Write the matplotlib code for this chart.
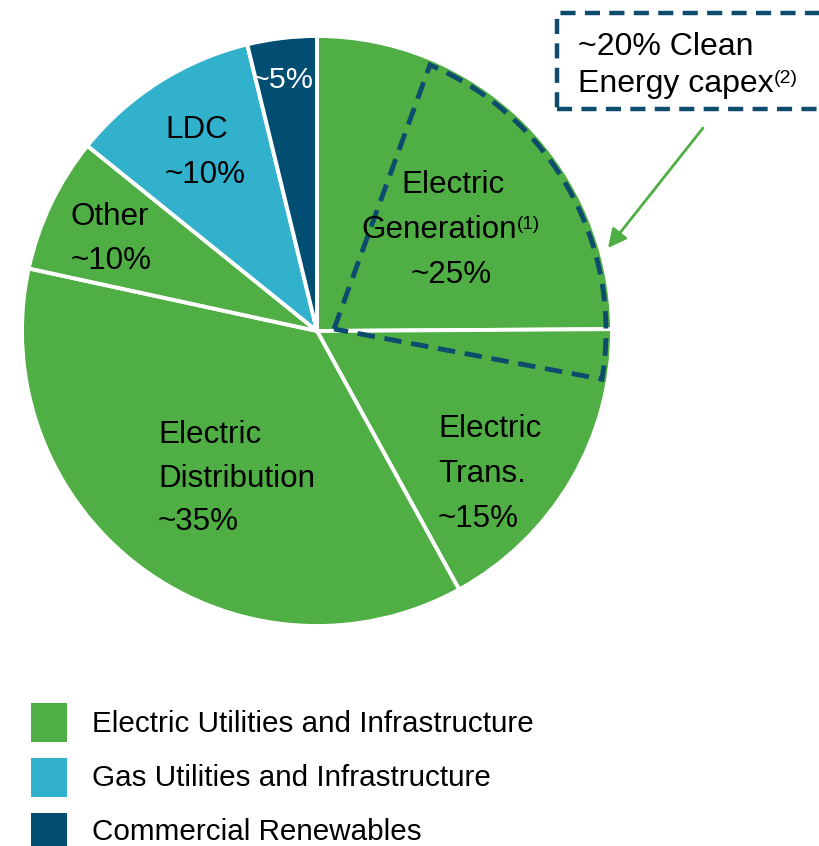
import matplotlib
matplotlib.use("Agg")
import matplotlib.pyplot as plt
import matplotlib.font_manager as font_manager
import numpy as np
from matplotlib.patches import Rectangle, Polygon

# capex split (clockwise from 12 o'clock)
segments = ["Electric Generation", "Electric Trans.", "Electric Distribution",
            "Other", "LDC", "Commercial Renewables"]
shares = [24.9, 17.1, 36.4, 7.4, 10.4, 3.8]
segment_group = [0, 0, 0, 0, 1, 2]

groups = ["Electric Utilities and Infrastructure",
          "Gas Utilities and Infrastructure",
          "Commercial Renewables"]
group_colors = ["#4FAF44", "#32B1CC", "#024D72"]
dash_color = "#0D4C6D"

W, H = 820, 846

installed = {f.name for f in font_manager.fontManager.ttflist}
narrow = "Liberation Sans Narrow" if "Liberation Sans Narrow" in installed else None
plt.rcParams["font.family"] = ["Liberation Sans", "DejaVu Sans"]
label_font = [narrow, "Liberation Sans"] if narrow else ["Liberation Sans"]
label_size = 26 if narrow else 22.6


def Y(y):
    return H - y


fig = plt.figure(figsize=(W / 100, H / 100), dpi=100)
ax = fig.add_axes([0, 0, 1, 1])

cx, cy, r = 317, Y(331), 295
ax.pie(shares, colors=[group_colors[g] for g in segment_group],
       startangle=90, counterclock=False, center=(cx, cy), radius=r,
       wedgeprops=dict(edgecolor="white", linewidth=2.8))

# pie labels: (lines, x, baselines, ha, colour)
labels = [
    (["Electric", "Generation", "~25%"], [453, 439, 451], [193, 238, 283], "center", "black"),
    (["Electric", "Trans.", "~15%"], [438] * 3, [437, 482, 527], "left", "black"),
    (["Electric", "Distribution", "~35%"], [158] * 3, [443, 487, 530], "left", "black"),
    (["Other", "~10%"], [71] * 2, [225, 269], "left", "black"),
    (["LDC", "~10%"], [165] * 2, [138, 183], "left", "black"),
    (["~5%"], [283], [88], "center", "white"),
]
gen_text = None
for lines, xs, ys, ha, col in labels:
    for s, x, y in zip(lines, xs, ys):
        size = label_size * 0.97 if s == "~5%" else label_size
        t = ax.text(x, Y(y), s, ha=ha, va="baseline", color=col,
                    fontsize=size, family=label_font)
        if s == "Generation":
            gen_text = t
ax.annotate("(1)", xy=(1.0, 0.98), xycoords=gen_text, ha="left", va="top",
            fontsize=label_size * 0.6, family=label_font)

# clean energy outline inside the generation slice
ang = np.radians(np.linspace(67, -9.6, 60))
rr = 289
arc = np.column_stack([cx + rr * np.cos(ang), cy + rr * np.sin(ang)])
outline = np.vstack([[[334, Y(329)]], arc])
ax.add_patch(Polygon(outline, closed=True, fill=False, edgecolor=dash_color,
                     linewidth=3.5, linestyle=(0, (3.6, 2.0)), joinstyle="miter"))

# callout box
ax.add_patch(Rectangle((557, Y(109)), 300, 96, fill=False, edgecolor=dash_color,
                       linewidth=3.2, linestyle=(0, (3.4, 2.1)), clip_on=True))
ax.text(578, Y(55), "~20% Clean", ha="left", va="baseline", fontsize=23)
cap = ax.text(578, Y(92), "Energy capex", ha="left", va="baseline", fontsize=23)
ax.annotate("(2)", xy=(1.0, 0.98), xycoords=cap, ha="left", va="top", fontsize=14)
ax.annotate("", xy=(608, Y(248)), xytext=(703, Y(128)),
            arrowprops=dict(arrowstyle="-|>", color=group_colors[0], lw=2,
                            mutation_scale=28, shrinkA=0, shrinkB=0))

# legend
for i, (name, col) in enumerate(zip(groups, group_colors)):
    top = 703 + i * 55
    ax.add_patch(Rectangle((31, Y(top + 39)), 36, 39, facecolor=col, edgecolor="none"))
    ax.text(92, Y(732 + i * 54), name, ha="left", va="baseline", fontsize=21.3)

ax.set_xlim(0, W)
ax.set_ylim(0, H)
ax.set_aspect("auto")
ax.axis("off")

fig.savefig("out.png", dpi=100, facecolor="white")
